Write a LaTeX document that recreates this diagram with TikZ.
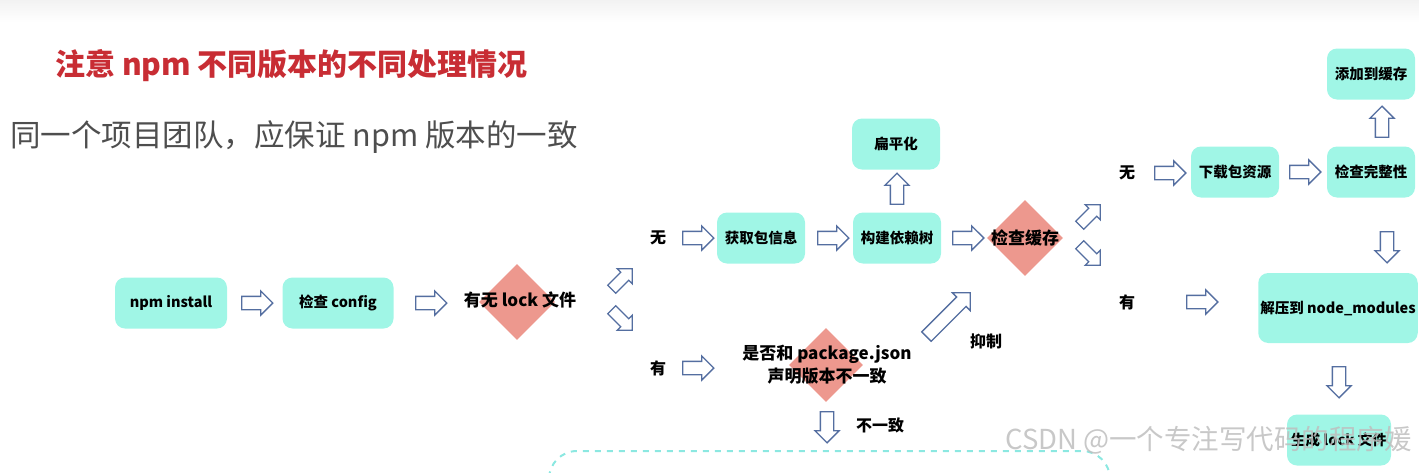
\documentclass[tikz,border=0pt]{standalone}
\usepackage{fontspec}
\setmainfont{Noto Sans CJK SC}
\usetikzlibrary{shapes.geometric,shapes.arrows}
\definecolor{boxteal}{RGB}{160,246,230}
\definecolor{diapink}{RGB}{237,152,142}
\definecolor{arrblue}{RGB}{84,110,160}
\definecolor{titlered}{RGB}{200,45,52}
\definecolor{subgray}{RGB}{78,78,78}
\definecolor{dashteal}{RGB}{140,232,225}
\definecolor{markgray}{RGB}{190,190,190}
\begin{document}
\begin{tikzpicture}[x=1pt,y=1pt,yscale=-1,xscale=1,
  stepbox/.style={fill=boxteal, rounded corners=10pt, minimum width=88pt, minimum height=51pt, inner sep=2pt, font=\fontsize{14.5}{16}\selectfont\bfseries},
  decide/.style={diamond, fill=diapink, minimum width=76pt, minimum height=76pt, inner sep=0pt},
  decidetext/.style={font=\fontsize{17}{23}\selectfont\bfseries, align=center, inner sep=0pt},
  lbl/.style={font=\fontsize{16}{18}\selectfont\bfseries, inner sep=0pt},
  hollow/.style={single arrow, draw=arrblue, line width=1.3pt, fill=white, minimum height=31pt, inner xsep=0pt, inner ysep=6pt, single arrow head extend=5.5pt},
  smallhollow/.style={hollow, minimum height=29pt, inner ysep=5pt, single arrow head extend=5pt}
]
\useasboundingbox (0,0) rectangle (1419,472);
% grey band on top
\shade [top color=black!5, bottom color=white] (0,0) rectangle (1419,22);
% headings
\draw (55,66) node [anchor=west][inner sep=0pt] (title) {\fontsize{30}{34}\selectfont\bfseries\color{titlered}注意 npm 不同版本的不同处理情况};
\draw (10,137) node [anchor=west][inner sep=0pt] (subtitle) {\fontsize{30.5}{34}\selectfont\color{subgray}同一个项目团队，应保证 npm 版本的一致};
% dashed frame at the bottom
\begin{scope}
\clip (0,0) rectangle (1419,472);
\draw [dashteal, line width=2pt, dash pattern=on 6pt off 6pt, rounded corners=28pt] (549,451) rectangle (1110,560);
\end{scope}
% steps
\node [stepbox, minimum width=112pt] (install) at (171,303) {npm install};
\node [stepbox, minimum width=111pt] (config) at (338,303) {检查 config};
\node [stepbox] (info) at (761,238) {获取包信息};
\node [stepbox] (tree) at (897,238) {构建依赖树};
\node [stepbox] (flat) at (896,144) {扁平化};
\node [stepbox] (download) at (1235,172) {下载包资源};
\node [stepbox] (verify) at (1371,172) {检查完整性};
\node [stepbox] (addcache) at (1371,74) {添加到缓存};
\node [stepbox, minimum width=157pt, minimum height=70pt] (unzip) at (1338,308) {解压到 node\_modules};
\node [stepbox, minimum width=104pt] (genlock) at (1339,440) {生成 lock 文件};
% decisions
\node [decide] (lockd) at (517,302) {};
\node [decidetext] (lockt) at (520,300) {有无 lock 文件};
\node [decide] (cached) at (1025,238) {};
\node [decidetext] (cachet) at (1025,238) {检查缓存};
\node [decide, minimum width=74pt, minimum height=74pt] (pkgd) at (826,365) {};
\node [decidetext] (pkgt) at (827,365) {是否和 package.json\\声明版本不一致};
% labels
\node [lbl] (no1) at (658,238) {无};
\node [lbl] (yes1) at (658,368) {有};
\node [lbl] (no2) at (1127,173) {无};
\node [lbl] (yes2) at (1127,302) {有};
\node [lbl] (suppress) at (986,341) {抑制};
\node [lbl] (differ) at (880,425) {不一致};
% hollow arrows
\node [hollow] (a1) at (254,303) {};
\node [hollow] (a2) at (428,303) {};
\node [smallhollow, rotate=45] (a3) at (620,281) {};
\node [smallhollow, rotate=-45] (a4) at (620,318) {};
\node [hollow] (a5) at (695,238) {};
\node [hollow] (a6) at (830,238) {};
\node [hollow, rotate=90] (a7) at (897,192) {};
\node [hollow] (a8) at (965,238) {};
\node [smallhollow, rotate=45] (a9) at (1088,217) {};
\node [smallhollow, rotate=-45] (a10) at (1088,253) {};
\node [hollow] (a11) at (1167,173) {};
\node [hollow] (a12) at (1302,172) {};
\node [hollow, rotate=90] (a13) at (1382,125) {};
\node [hollow, rotate=-90] (a14) at (1387,244) {};
\node [hollow] (a15) at (1199,302) {};
\node [hollow, rotate=-90] (a16) at (1339,379) {};
\node [hollow] (a17) at (695,368) {};
\node [hollow, rotate=-90] (a18) at (827,424) {};
\node [hollow, rotate=45, minimum height=62pt, inner ysep=6pt, single arrow head extend=6pt] (a19) at (946,317) {};
% watermark
\node [anchor=west, inner sep=0pt, opacity=0.85] (mark) at (1005,440) {\fontsize{27.5}{30}\selectfont\color{markgray}CSDN @一个专注写代码的程序媛};
\end{tikzpicture}
\end{document}
